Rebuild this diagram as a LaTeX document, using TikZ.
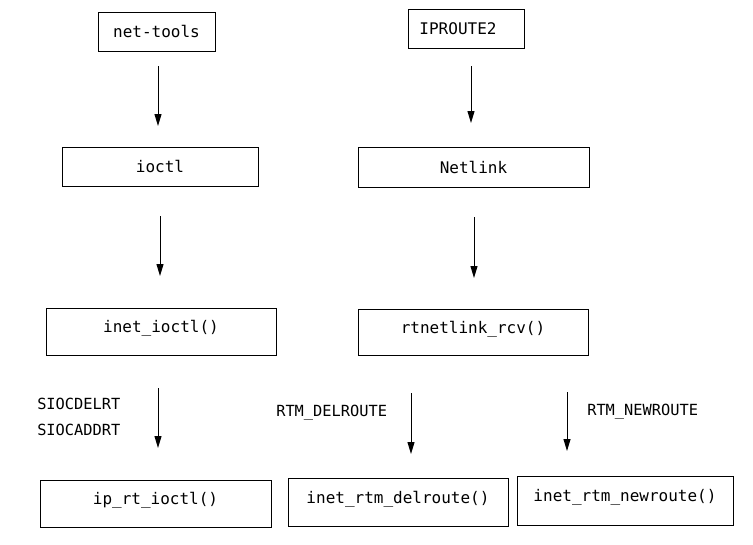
\documentclass[tikz,border=0pt]{standalone}
\usepackage{fontspec}
\setmonofont{DejaVu Sans Mono}
\usetikzlibrary{arrows.meta}
\tikzset{
  box/.style={draw=black, line width=0.75pt, inner sep=0pt, font=\ttfamily\fontsize{12}{14}\selectfont},
  up/.style={text depth=7pt},
  arr/.style={draw=black, line width=0.75pt, -{Triangle[width=5.25pt,length=9pt]}},
  lab/.style={anchor=west, inner sep=0pt, font=\ttfamily\fontsize{11.5}{14}\selectfont},
}
\begin{document}
\begin{tikzpicture}[x=0.75pt,y=-0.75pt]
  \useasboundingbox (0,0) rectangle (753,544);

  % boxes
  \node[box,minimum width=87.75pt,minimum height=29.25pt] (nettools) at (156.5,31.5) {net-tools};
  \node[box,minimum width=87pt,minimum height=29.25pt] (iproute) at (466,28.5) {IPROUTE2\kern12pt};
  \node[box,minimum width=147pt,minimum height=29.25pt] (ioctl) at (160,166.5) {ioctl};
  \node[box,minimum width=173.25pt,minimum height=30pt] (netlink) at (473.5,167) {Netlink};
  \node[box,up,minimum width=172.5pt,minimum height=35.25pt] (inetioctl) at (161,331.5) {inet\_ioctl()};
  \node[box,up,minimum width=172.5pt,minimum height=34.5pt] (rtnlrcv) at (473,332) {rtnetlink\_rcv()};
  \node[box,up,minimum width=173.25pt,minimum height=35.25pt] (iprtioctl) at (155.5,503.5) {ip\_rt\_ioctl()};
  \node[box,up,minimum width=165pt,minimum height=36pt] (delroute) at (398,502) {inet\_rtm\_delroute()};
  \node[box,up,minimum width=162pt,minimum height=36.75pt] (newroute) at (625,500.5) {inet\_rtm\_newroute()};

  % labels
  \node[lab] (siocdel) at (37,404) {SIOCDELRT};
  \node[lab] (siocadd) at (37,430) {SIOCADDRT};
  \node[lab] (rtmdel) at (276,413) {RTM\_DELROUTE};
  \node[lab] (rtmnew) at (587,412) {RTM\_NEWROUTE};

  % arrow ends
  \coordinate (a1s) at (158,66);  \coordinate (a1e) at (158,126);
  \coordinate (a2s) at (471,66);  \coordinate (a2e) at (471,123);
  \coordinate (a3s) at (160,216); \coordinate (a3e) at (160,276);
  \coordinate (a4s) at (474,217); \coordinate (a4e) at (474,278);
  \coordinate (a5s) at (158,388); \coordinate (a5e) at (158,448);
  \coordinate (a6s) at (411,393); \coordinate (a6e) at (411,454);
  \coordinate (a7s) at (567,392); \coordinate (a7e) at (567,451);

  \draw[arr] (a1s) -- (a1e);
  \draw[arr] (a2s) -- (a2e);
  \draw[arr] (a3s) -- (a3e);
  \draw[arr] (a4s) -- (a4e);
  \draw[arr] (a5s) -- (a5e);
  \draw[arr] (a6s) -- (a6e);
  \draw[arr] (a7s) -- (a7e);
\end{tikzpicture}
\end{document}
